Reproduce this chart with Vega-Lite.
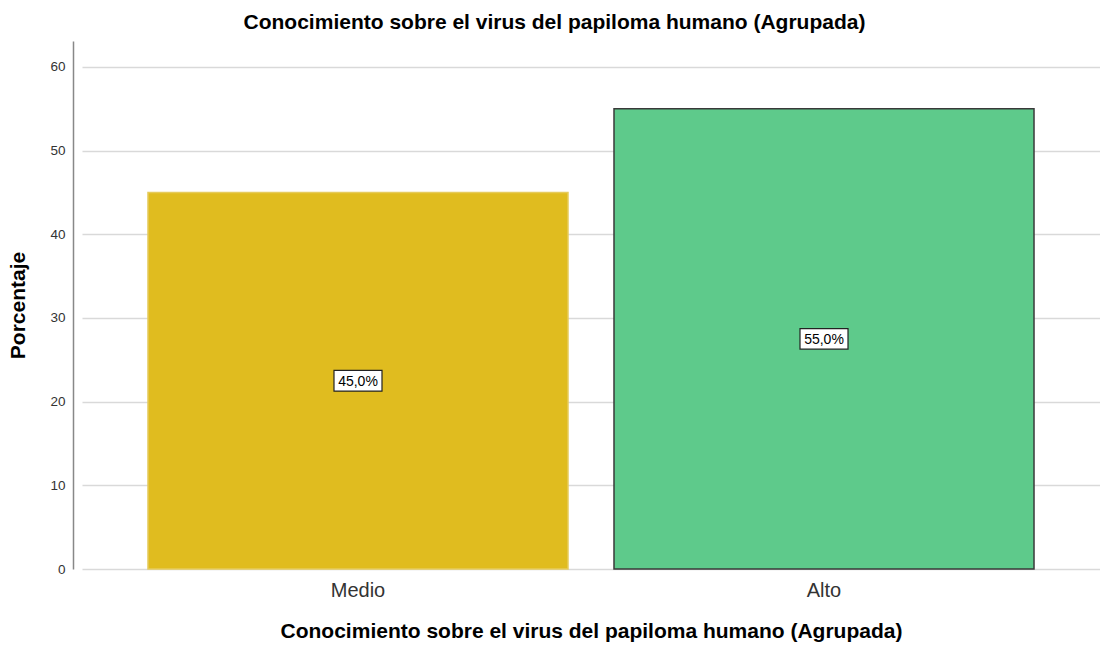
{
  "$schema": "https://vega.github.io/schema/vega-lite/v6.json",
  "width": 1027,
  "height": 528,
  "autosize": {"type": "none"},
  "padding": {"left": 73, "top": 41, "right": 0, "bottom": 78},
  "background": "white",
  "config": {
    "font": "Liberation Sans",
    "view": {"stroke": null}
  },
  "title": {
    "text": "Conocimiento sobre el virus del papiloma humano (Agrupada)",
    "fontSize": 21,
    "fontWeight": "bold",
    "color": "#000000",
    "anchor": "middle",
    "dx": -32,
    "offset": 8,
    "font": "Liberation Sans"
  },
  "data": {
    "values": [
      {"categoria": "Medio", "porcentaje": 45.0, "mitad": 22.5, "etiqueta": "45,0%"},
      {"categoria": "Alto", "porcentaje": 55.0, "mitad": 27.5, "etiqueta": "55,0%"}
    ]
  },
  "encoding": {
    "x": {
      "field": "categoria",
      "type": "nominal",
      "sort": ["Medio", "Alto"],
      "scale": {"range": [9, 1027], "paddingInner": 0.0987, "paddingOuter": 0.1416},
      "axis": {
        "title": "Conocimiento sobre el virus del papiloma humano (Agrupada)",
        "titleFontSize": 21,
        "titleFontWeight": "bold",
        "titleColor": "#000000",
        "titlePadding": 20,
        "labelFontSize": 20,
        "labelColor": "#333333",
        "labelPadding": 11,
        "labelAngle": 0,
        "ticks": false,
        "domain": false
      }
    }
  },
  "layer": [
    {
      "mark": {"type": "bar", "strokeWidth": 1.5},
      "encoding": {
        "y": {
          "field": "porcentaje",
          "type": "quantitative",
          "scale": {"domain": [0, 63.1], "nice": false},
          "axis": {
            "title": "Porcentaje",
            "titleFontSize": 21,
            "titleFontWeight": "bold",
            "titleColor": "#000000",
            "titlePadding": 21,
            "labelFontSize": 13.5,
            "labelColor": "#333333",
            "labelPadding": 8,
            "values": [0, 10, 20, 30, 40, 50, 60],
            "ticks": false,
            "grid": true,
            "gridColor": "#d9d9d9",
            "gridWidth": 1.5,
            "domainColor": "#888888",
            "domainWidth": 1.5
          }
        },
        "color": {
          "field": "categoria",
          "type": "nominal",
          "scale": {"domain": ["Medio", "Alto"], "range": ["#E0BC1F", "#5ECA8B"]},
          "legend": null
        },
        "stroke": {
          "field": "categoria",
          "type": "nominal",
          "scale": {"domain": ["Medio", "Alto"], "range": ["#E6CB5C", "#3A3A3A"]},
          "legend": null
        }
      }
    },
    {
      "mark": {"type": "rule", "color": "#888888", "strokeWidth": 1.5},
      "encoding": {
        "y": {"datum": 0, "type": "quantitative"}
      }
    },
    {
      "mark": {
        "type": "point",
        "shape": "M-1,-0.43L1,-0.43L1,0.43L-1,0.43Z",
        "size": 2304,
        "filled": true,
        "fill": "#ffffff",
        "stroke": "#222222",
        "strokeWidth": 1.2,
        "opacity": 1
      },
      "encoding": {
        "y": {"field": "mitad", "type": "quantitative"}
      }
    },
    {
      "mark": {"type": "text", "fontSize": 14, "color": "#000000", "baseline": "middle", "align": "center", "dy": 1},
      "encoding": {
        "y": {"field": "mitad", "type": "quantitative"},
        "text": {"field": "etiqueta"}
      }
    }
  ]
}
